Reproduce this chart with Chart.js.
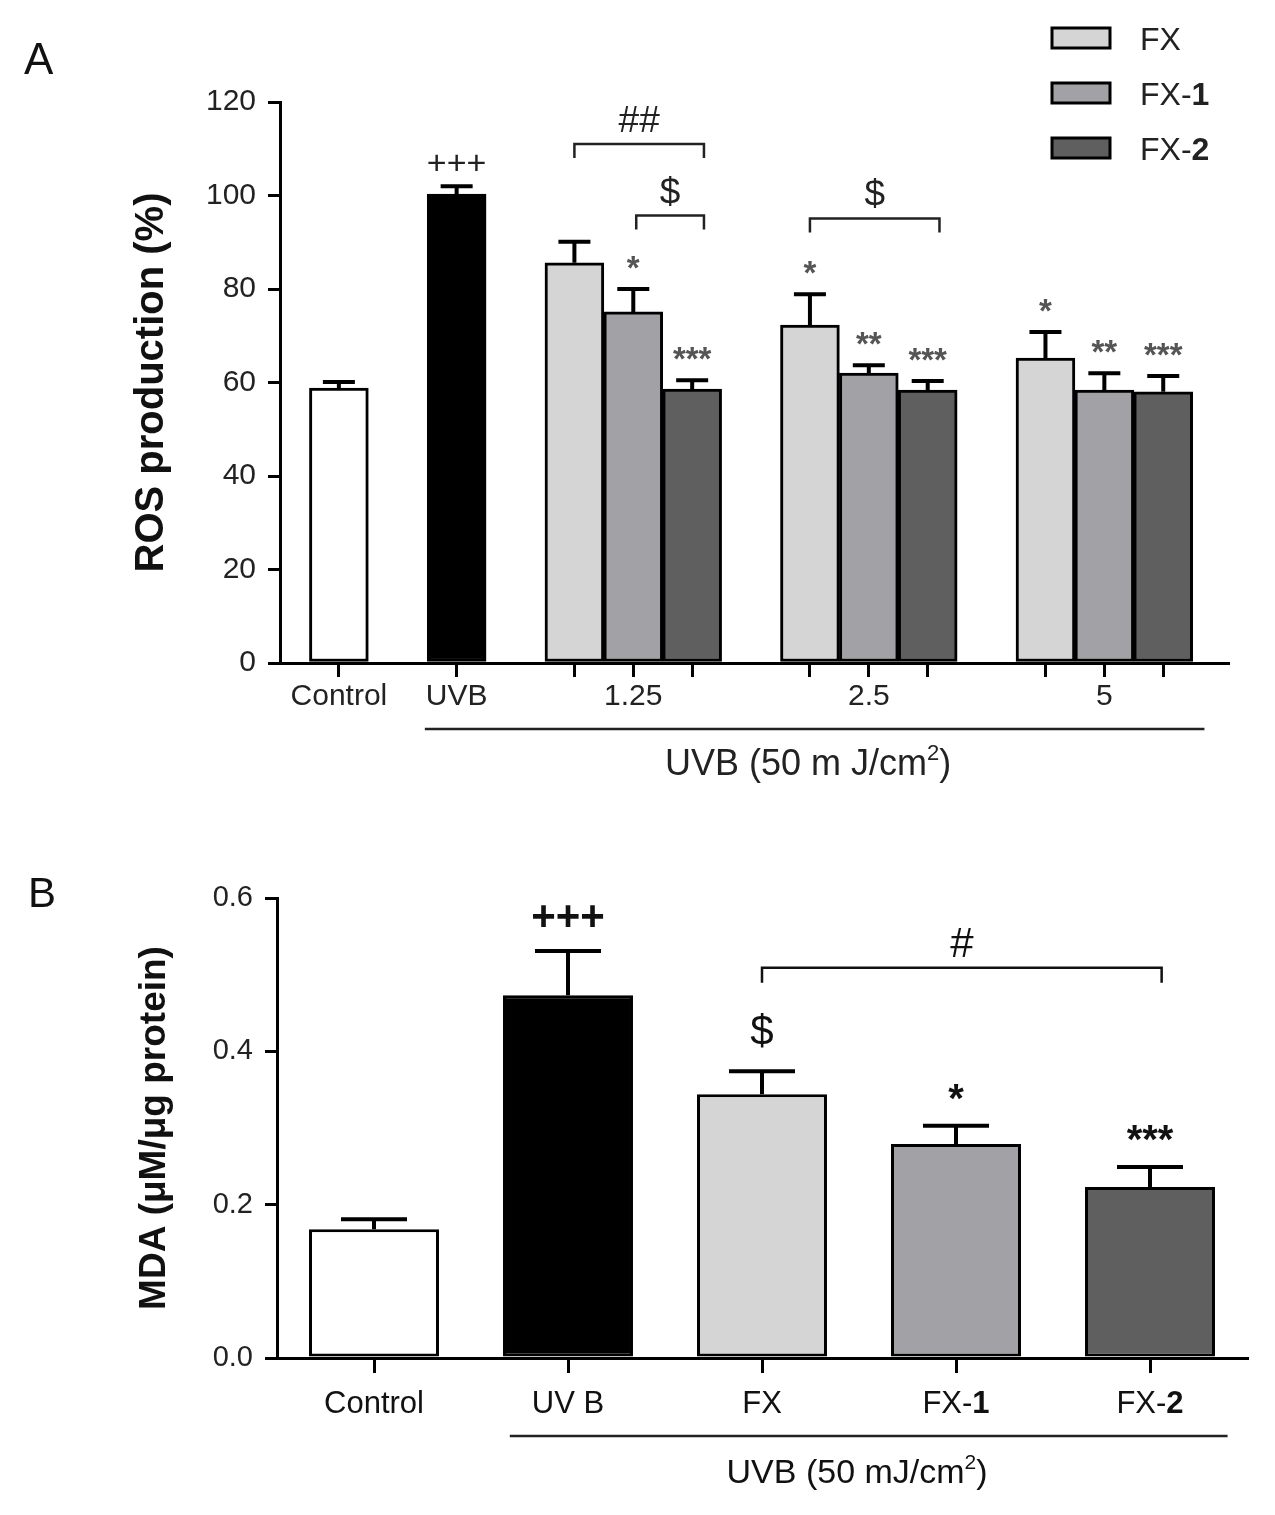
<!DOCTYPE html>
<html>
<head>
<meta charset="utf-8">
<script src="https://cdn.jsdelivr.net/npm/chart.js@4.4.1/dist/chart.umd.min.js"></script>
<style>
  html, body { margin: 0; padding: 0; background: #fff; }
  #wrapA { position: absolute; left: 0; top: 0; width: 1275px; height: 800px; }
  #wrapB { position: absolute; left: 0; top: 800px; width: 1275px; height: 715px; }
</style>
</head>
<body>
<div id="wrapA"><canvas id="chartA" width="1275" height="800"></canvas></div>
<div id="wrapB"><canvas id="chartB" width="1275" height="715"></canvas></div>
<script>
// ---- Panel A: ROS production (%) ----
const rosRefLabels = ['Control', 'UVB'];
const rosRefValues = [58.8, 100.3];
const rosRefErrors = [1.3, 1.7];
const rosRefMarks = ['', '+++'];

const rosDoses = ['1.25', '2.5', '5'];
const rosSeries = ['FX', 'FX-1', 'FX-2'];
const rosFX = [85.6, 72.3, 65.2];
const rosFXErr = [4.5, 6.6, 5.6];
const rosFX1 = [75.1, 62.0, 58.4];
const rosFX1Err = [4.9, 1.7, 3.6];
const rosFX2 = [58.6, 58.4, 58.0];
const rosFX2Err = [1.9, 1.9, 3.4];
const rosFXMarks = ['', '*', '*'];
const rosFX1Marks = ['*', '**', '**'];
const rosFX2Marks = ['***', '***', '***'];
const rosTicks = [0, 20, 40, 60, 80, 100, 120];

// ---- Panel B: MDA (uM/ug protein) ----
const mdaLabels = ['Control', 'UV B', 'FX', 'FX-1', 'FX-2'];
const mdaValues = [0.168, 0.473, 0.344, 0.279, 0.223];
const mdaErrors = [0.013, 0.058, 0.030, 0.024, 0.026];
const mdaMarks = ['', '+++', '$', '*', '***'];
const mdaTicks = [0, 0.2, 0.4, 0.6];

const FONT = '"Liberation Sans", Arial, Helvetica, sans-serif';
const seriesColors = ['#d5d5d5', '#a2a2a6', '#5f5f5f'];
Chart.defaults.font.family = FONT;
Chart.defaults.color = '#222';

// texte avec morceaux gras / exposant
function drawRich(ctx, parts, x, y, size, align, color) {
  ctx.save();
  ctx.fillStyle = color || '#222';
  ctx.textBaseline = 'alphabetic';
  ctx.textAlign = 'left';
  const fontFor = p => (p.bold ? 'bold ' : '') + (p.sup ? Math.round(size * 0.62) : size) + 'px ' + FONT;
  let total = 0;
  parts.forEach(p => { ctx.font = fontFor(p); p.w = ctx.measureText(p.t).width; total += p.w; });
  let cx = align === 'center' ? x - total / 2 : (align === 'right' ? x - total : x);
  parts.forEach(p => {
    ctx.font = fontFor(p);
    ctx.fillText(p.t, cx, p.sup ? y - size * 0.42 : y);
    cx += p.w;
  });
  ctx.restore();
}

function nameParts(name) {
  const k = name.indexOf('-');
  return k < 0 ? [{ t: name }] : [{ t: name.slice(0, k + 1) }, { t: name.slice(k + 1), bold: true }];
}

// centre vertical du glyphe a cy
function drawMark(ctx, text, x, cy, size, color, weight) {
  ctx.save();
  ctx.font = (weight || 'normal') + ' ' + size + 'px ' + FONT;
  ctx.fillStyle = color;
  ctx.textAlign = 'center';
  ctx.textBaseline = 'alphabetic';
  const k = text[0] === '*' ? 0.58 : 0.35;
  ctx.fillText(text, x, cy + size * k);
  ctx.restore();
}

function drawBracket(ctx, x1, x2, py, drop, text, size, color) {
  ctx.save();
  ctx.strokeStyle = color;
  ctx.lineWidth = 2.5;
  ctx.beginPath();
  ctx.moveTo(x1, py + drop);
  ctx.lineTo(x1, py);
  ctx.lineTo(x2, py);
  ctx.lineTo(x2, py + drop);
  ctx.stroke();
  ctx.restore();
  drawMark(ctx, text, (x1 + x2) / 2, py - 25, size, color);
}

const val = d => (typeof d === 'object' ? d.y : d);

const errorBars = {
  id: 'errorBars',
  afterDatasetsDraw(chart, args, opts) {
    const { ctx } = chart;
    const y = chart.scales.y;
    chart.data.datasets.forEach((ds, di) => {
      chart.getDatasetMeta(di).data.forEach((bar, i) => {
        const top = y.getPixelForValue(val(ds.data[i]) + ds.errors[i]);
        ctx.save();
        ctx.strokeStyle = '#000';
        ctx.lineWidth = 4;
        ctx.beginPath();
        ctx.moveTo(bar.x, bar.y);
        ctx.lineTo(bar.x, top);
        ctx.moveTo(bar.x - opts.cap / 2, top);
        ctx.lineTo(bar.x + opts.cap / 2, top);
        ctx.stroke();
        ctx.restore();
      });
    });
  }
};

function axisLine(ctx, x1, x2, py) {
  ctx.save();
  ctx.strokeStyle = '#222';
  ctx.lineWidth = 2.5;
  ctx.beginPath();
  ctx.moveTo(x1, py);
  ctx.lineTo(x2, py);
  ctx.stroke();
  ctx.restore();
}

// ---------- Chart A ----------
const rosSeriesData = [rosFX, rosFX1, rosFX2];
const rosSeriesErr = [rosFXErr, rosFX1Err, rosFX2Err];
const rosSeriesMarks = [rosFXMarks, rosFX1Marks, rosFX2Marks];
const refColors = ['#ffffff', '#000000'];

const rosSets = rosRefLabels.map((name, r) => ({
  label: name,
  data: [{ x: 2 * r, y: rosRefValues[r] }],
  errors: [rosRefErrors[r]],
  marks: [rosRefMarks[r]],
  backgroundColor: refColors[r]
})).concat(rosSeries.map((name, s) => ({
  label: name,
  data: rosSeriesData[s].map((v, g) => ({ x: 4 + 4 * g + s, y: v })),
  errors: rosSeriesErr[s],
  marks: rosSeriesMarks[s],
  backgroundColor: seriesColors[s]
})));

const rosTickPos = [0, 2];
rosDoses.forEach((d, g) => rosSeries.forEach((n, s) => rosTickPos.push(4 + 4 * g + s)));
function rosTickLabel(v) {
  if (v === 0) return rosRefLabels[0];
  if (v === 2) return rosRefLabels[1];
  const g = (v - 5) / 4;
  return Number.isInteger(g) && rosDoses[g] ? rosDoses[g] : '';
}

const rosDecor = {
  id: 'rosDecor',
  afterDraw(chart) {
    const { ctx, chartArea } = chart;
    const { x, y } = chart.scales;
    // marques de significativite
    chart.data.datasets.forEach((ds, di) => {
      chart.getDatasetMeta(di).data.forEach((bar, i) => {
        const m = ds.marks[i];
        if (!m) return;
        const top = y.getPixelForValue(val(ds.data[i]) + ds.errors[i]);
        if (m[0] === '*') drawMark(ctx, m, bar.x, top - 29, 33, '#555', 'bold');
        else drawMark(ctx, m, bar.x, top - 24, 34, '#222');
      });
    });
    // crochets
    [[4, 6.2, 111.0, '##'], [5.05, 6.2, 95.7, '$'], [8, 10.2, 95.1, '$']].forEach(b => {
      drawBracket(ctx, x.getPixelForValue(b[0]), x.getPixelForValue(b[1]), y.getPixelForValue(b[2]), 14, b[3], 37, '#222');
    });
    // groupe UVB sous l'axe
    axisLine(ctx, x.getPixelForValue(1.46), x.getPixelForValue(14.7), chartArea.bottom + 66);
    drawRich(ctx, [{ t: 'UVB (50 m J/cm' }, { t: '2', sup: true }, { t: ')' }],
      x.getPixelForValue(7.97), chartArea.bottom + 112, 36, 'center', '#222');
    // legende
    rosSeries.forEach((name, s) => {
      const cy = 38 + 55 * s;
      ctx.save();
      ctx.fillStyle = seriesColors[s];
      ctx.strokeStyle = '#000';
      ctx.lineWidth = 3;
      ctx.fillRect(1052, cy - 10, 58, 20);
      ctx.strokeRect(1052, cy - 10, 58, 20);
      ctx.restore();
      drawRich(ctx, nameParts(name), 1140, cy + 12, 32, 'left', '#222');
    });
    // lettre du panneau
    ctx.save();
    ctx.font = '44px ' + FONT;
    ctx.fillStyle = '#111';
    ctx.fillText('A', 24, 74);
    ctx.restore();
  }
};

new Chart(document.getElementById('chartA'), {
  type: 'bar',
  data: { datasets: rosSets },
  options: {
    responsive: false,
    animation: false,
    devicePixelRatio: 1,
    layout: { padding: { left: 128, top: 102, right: 47, bottom: 0 } },
    datasets: { bar: { grouped: false, barPercentage: 1, categoryPercentage: 1, borderColor: '#000', borderWidth: 3, borderSkipped: false } },
    plugins: { legend: { display: false }, tooltip: { enabled: false }, errorBars: { cap: 32 } },
    scales: {
      x: {
        type: 'linear',
        min: -1,
        max: 15.1,
        offset: false,
        afterBuildTicks: s => { s.ticks = rosTickPos.map(v => ({ value: v })); },
        afterFit: s => { s.height = 137; },
        ticks: { autoSkip: false, maxRotation: 0, padding: 2, font: { size: 30 }, color: '#222', callback: v => rosTickLabel(v) },
        grid: { offset: false, drawOnChartArea: false, drawTicks: true, tickLength: 14, lineWidth: 3, color: '#000' },
        border: { display: true, width: 3, color: '#000' }
      },
      y: {
        min: 0,
        max: 120,
        afterBuildTicks: s => { s.ticks = rosTicks.map(v => ({ value: v })); },
        afterFit: s => { s.width = 152; },
        ticks: { padding: 12, font: { size: 30 }, color: '#222' },
        grid: { drawOnChartArea: false, drawTicks: true, tickLength: 12, lineWidth: 3, color: '#000' },
        border: { display: true, width: 3, color: '#000' },
        title: { display: true, text: 'ROS production (%)', font: { size: 40, weight: 'bold' }, color: '#111', padding: 0 }
      }
    }
  },
  plugins: [errorBars, rosDecor]
});

// ---------- Chart B ----------
const mdaDecor = {
  id: 'mdaDecor',
  afterDraw(chart) {
    const { ctx, chartArea } = chart;
    const { x, y } = chart.scales;
    const ds = chart.data.datasets[0];
    chart.getDatasetMeta(0).data.forEach((bar, i) => {
      const m = ds.marks[i];
      if (!m) return;
      const top = y.getPixelForValue(ds.data[i] + ds.errors[i]);
      if (m[0] === '*') drawMark(ctx, m, bar.x, top - 37, 40, '#111', 'bold');
      else if (m[0] === '+') drawMark(ctx, m, bar.x, top - 36, 42, '#111', 'bold');
      else drawMark(ctx, m, bar.x, top - 41, 42, '#111');
    });
    drawBracket(ctx, x.getPixelForValue(2), x.getPixelForValue(4.06), y.getPixelForValue(0.509), 15, '#', 42, '#111');
    // etiquettes de categories
    mdaLabels.forEach((name, i) => {
      drawRich(ctx, nameParts(name), x.getPixelForValue(i), chartArea.bottom + 55, 31, 'center', '#111');
    });
    axisLine(ctx, x.getPixelForValue(0.7), x.getPixelForValue(4.4), chartArea.bottom + 78);
    drawRich(ctx, [{ t: 'UVB (50 mJ/cm' }, { t: '2', sup: true }, { t: ')' }],
      x.getPixelForValue(2.49), chartArea.bottom + 125, 34, 'center', '#111');
    ctx.save();
    ctx.font = '42px ' + FONT;
    ctx.fillStyle = '#111';
    ctx.fillText('B', 28, 107);
    ctx.restore();
  }
};

new Chart(document.getElementById('chartB'), {
  type: 'bar',
  data: {
    labels: mdaLabels,
    datasets: [{
      label: 'MDA',
      data: mdaValues,
      errors: mdaErrors,
      marks: mdaMarks,
      backgroundColor: ['#ffffff', '#000000'].concat(seriesColors),
      borderColor: '#000',
      borderWidth: 3,
      borderSkipped: false,
      barPercentage: 0.67,
      categoryPercentage: 1
    }]
  },
  options: {
    responsive: false,
    animation: false,
    devicePixelRatio: 1,
    layout: { padding: { left: 133, top: 98, right: 28, bottom: 0 } },
    plugins: { legend: { display: false }, tooltip: { enabled: false }, errorBars: { cap: 66 } },
    scales: {
      x: {
        afterFit: s => { s.height = 157; },
        ticks: { display: false },
        grid: { offset: false, drawOnChartArea: false, drawTicks: true, tickLength: 15, lineWidth: 3, color: '#000' },
        border: { display: true, width: 3, color: '#000' }
      },
      y: {
        min: 0,
        max: 0.6,
        afterBuildTicks: s => { s.ticks = mdaTicks.map(v => ({ value: v })); },
        afterFit: s => { s.width = 144; },
        ticks: { padding: 12, font: { size: 29 }, color: '#222', callback: v => v.toFixed(1) },
        grid: { drawOnChartArea: false, drawTicks: true, tickLength: 12, lineWidth: 3, color: '#000' },
        border: { display: true, width: 3, color: '#000' },
        title: { display: true, text: 'MDA (μM/μg protein)', font: { size: 37, weight: 'bold' }, color: '#111', padding: 0 }
      }
    }
  },
  plugins: [errorBars, mdaDecor]
});
</script>
</body>
</html>
